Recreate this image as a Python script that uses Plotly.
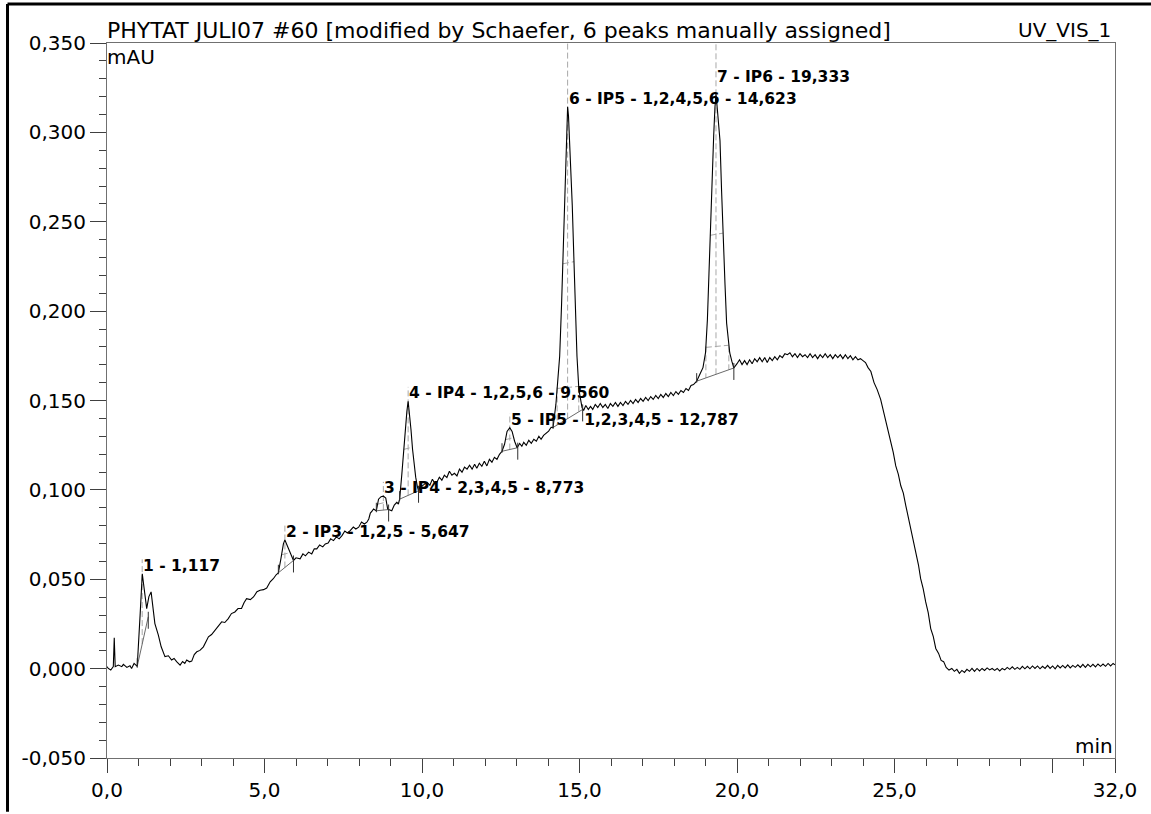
import numpy as np
import plotly.graph_objects as go

# ---------------- data ----------------
time_min = [
    0.00, 0.04, 0.12, 0.20, 0.23, 0.26, 0.36, 0.47, 0.52, 0.63, 0.73, 0.78, 0.86, 0.92, 0.96,
    1.05, 1.12, 1.26, 1.33, 1.40, 1.47, 1.52, 1.63, 1.72, 1.84, 1.95, 2.05, 2.13, 2.21, 2.32,
    2.40, 2.47, 2.53, 2.62, 2.69, 2.77, 2.85, 2.95, 3.06, 3.14, 3.22, 3.32, 3.43, 3.52, 3.64,
    3.74, 3.85, 3.95, 4.06, 4.16, 4.27, 4.35, 4.43, 4.55, 4.65, 4.76, 4.86, 4.97, 5.07, 5.18,
    5.28, 5.37, 5.44, 5.52, 5.60, 5.647, 5.70, 5.79, 5.86, 5.92, 6.00, 6.13, 6.22, 6.30, 6.40,
    6.50, 6.58, 6.66, 6.75, 6.85, 6.93, 7.02, 7.10, 7.19, 7.28, 7.37, 7.46, 7.55, 7.63, 7.72,
    7.82, 7.90, 7.99, 8.08, 8.17, 8.25, 8.31, 8.36, 8.42, 8.46, 8.55, 8.62, 8.70, 8.773, 8.85,
    8.91, 8.94, 9.04, 9.12, 9.20, 9.25, 9.29, 9.36, 9.42, 9.47, 9.52, 9.56, 9.60, 9.65, 9.70,
    9.75, 9.80, 9.85, 9.89, 9.95, 10.00, 10.08, 10.16, 10.25, 10.33, 10.40, 10.47, 10.55, 10.63, 10.71,
    10.79, 10.87, 10.95, 11.03, 11.11, 11.19, 11.27, 11.35, 11.43, 11.51, 11.59, 11.67, 11.74, 11.82, 11.90,
    11.98, 12.06, 12.14, 12.22, 12.30, 12.38, 12.46, 12.54, 12.62, 12.70, 12.787, 12.86, 12.94, 13.02, 13.10,
    13.17, 13.23, 13.31, 13.39, 13.47, 13.55, 13.63, 13.71, 13.78, 13.86, 13.94, 14.02, 14.10, 14.16, 14.25,
    14.32, 14.37, 14.43, 14.48, 14.53, 14.57, 14.60, 14.623, 14.65, 14.68, 14.71, 14.77, 14.82, 14.87, 14.92,
    14.98, 15.03, 15.08, 15.13, 15.20, 15.28, 15.35, 15.42, 15.50, 15.58, 15.66, 15.74, 15.82, 15.90, 15.98,
    16.06, 16.14, 16.22, 16.30, 16.38, 16.46, 16.54, 16.62, 16.70, 16.78, 16.86, 16.94, 17.02, 17.10, 17.18,
    17.26, 17.34, 17.42, 17.50, 17.58, 17.66, 17.74, 17.82, 17.90, 17.98, 18.06, 18.14, 18.22, 18.30, 18.38,
    18.46, 18.54, 18.62, 18.72, 18.84, 18.92, 19.00, 19.06, 19.11, 19.16, 19.21, 19.26, 19.30, 19.333, 19.38,
    19.46, 19.51, 19.56, 19.62, 19.67, 19.72, 19.77, 19.84, 19.90, 20.00, 20.08, 20.16, 20.24, 20.32, 20.40,
    20.48, 20.56, 20.64, 20.72, 20.80, 20.88, 20.96, 21.04, 21.12, 21.20, 21.28, 21.36, 21.44, 21.52, 21.60,
    21.68, 21.76, 21.84, 21.92, 22.00, 22.08, 22.16, 22.24, 22.32, 22.40, 22.48, 22.56, 22.64, 22.72, 22.80,
    22.88, 22.96, 23.04, 23.12, 23.20, 23.28, 23.36, 23.44, 23.52, 23.60, 23.68, 23.76, 23.84, 23.92, 24.00,
    24.08, 24.16, 24.25, 24.35, 24.45, 24.56, 24.64, 24.72, 24.80, 24.88, 24.96, 25.04, 25.12, 25.20, 25.28,
    25.36, 25.44, 25.52, 25.60, 25.68, 25.76, 25.83, 25.91, 25.99, 26.07, 26.15, 26.23, 26.31, 26.40, 26.48,
    26.56, 26.64, 26.73, 26.82, 26.90, 26.98, 27.06, 27.14, 27.22, 27.30, 27.38, 27.46, 27.54, 27.62, 27.70,
    27.78, 27.86, 27.94, 28.02, 28.10, 28.18, 28.26, 28.34, 28.42, 28.50, 28.58, 28.66, 28.74, 28.82, 28.90,
    28.98, 29.06, 29.14, 29.22, 29.30, 29.38, 29.46, 29.54, 29.62, 29.70, 29.78, 29.86, 29.94, 30.02, 30.10,
    30.18, 30.26, 30.34, 30.42, 30.50, 30.58, 30.66, 30.74, 30.82, 30.90, 30.98, 31.06, 31.14, 31.22, 31.30,
    31.38, 31.46, 31.54, 31.62, 31.70, 31.78, 31.86, 31.94, 32.00,
]

signal_mau = [
    0.0011, 0.0001, -0.0008, 0.0011, 0.0172, 0.0011, 0.0020, 0.0011, 0.0024, 0.0007, 0.0016, 0.0001, 0.0029, 0.0016, 0.0013,
    0.0298, 0.0531, 0.0336, 0.0403, 0.0429, 0.0317, 0.0252, 0.0187, 0.0122, 0.0067, 0.0072, 0.0048, 0.0057, 0.0039, 0.0020,
    0.0040, 0.0029, 0.0048, 0.0038, 0.0042, 0.0079, 0.0094, 0.0102, 0.0122, 0.0152, 0.0178, 0.0191, 0.0215, 0.0230, 0.0262,
    0.0258, 0.0280, 0.0308, 0.0317, 0.0336, 0.0336, 0.0369, 0.0391, 0.0386, 0.0401, 0.0430, 0.0438, 0.0442, 0.0451, 0.0486,
    0.0503, 0.0525, 0.0536, 0.0614, 0.0698, 0.0720, 0.0698, 0.0652, 0.0625, 0.0605, 0.0620, 0.0614, 0.0642, 0.0631, 0.0652,
    0.0642, 0.0670, 0.0670, 0.0692, 0.0681, 0.0698, 0.0703, 0.0726, 0.0716, 0.0737, 0.0726, 0.0744, 0.0770, 0.0759, 0.0772,
    0.0792, 0.0781, 0.0791, 0.0820, 0.0809, 0.0819, 0.0837, 0.0870, 0.0882, 0.0893, 0.0883, 0.0948, 0.0962, 0.0965, 0.0954,
    0.0893, 0.0890, 0.0883, 0.0915, 0.0930, 0.0921, 0.0948, 0.1088, 0.1227, 0.1350, 0.1439, 0.1496, 0.1439, 0.1338, 0.1227,
    0.1138, 0.1071, 0.1021, 0.0995, 0.1026, 0.1021, 0.1032, 0.1042, 0.1026, 0.1060, 0.1038, 0.1042, 0.1071, 0.1054, 0.1082,
    0.1069, 0.1104, 0.1082, 0.1093, 0.1078, 0.1116, 0.1099, 0.1127, 0.1116, 0.1138, 0.1116, 0.1143, 0.1121, 0.1149, 0.1132,
    0.1160, 0.1134, 0.1171, 0.1155, 0.1182, 0.1171, 0.1199, 0.1216, 0.1255, 0.1327, 0.1348, 0.1327, 0.1272, 0.1236, 0.1260,
    0.1244, 0.1266, 0.1249, 0.1277, 0.1260, 0.1283, 0.1272, 0.1300, 0.1283, 0.1305, 0.1316, 0.1329, 0.1350, 0.1349, 0.1478,
    0.1645, 0.1747, 0.2035, 0.2304, 0.2592, 0.2861, 0.3038, 0.3143, 0.3093, 0.2982, 0.2861, 0.2592, 0.2304, 0.2035, 0.1747,
    0.1561, 0.1495, 0.1461, 0.1444, 0.1472, 0.1450, 0.1467, 0.1450, 0.1478, 0.1461, 0.1483, 0.1461, 0.1478, 0.1455, 0.1483,
    0.1467, 0.1489, 0.1467, 0.1489, 0.1472, 0.1495, 0.1478, 0.1500, 0.1483, 0.1506, 0.1489, 0.1511, 0.1495, 0.1517, 0.1500,
    0.1522, 0.1506, 0.1528, 0.1511, 0.1534, 0.1517, 0.1539, 0.1522, 0.1545, 0.1528, 0.1550, 0.1534, 0.1556, 0.1545, 0.1567,
    0.1556, 0.1584, 0.1589, 0.1608, 0.1654, 0.1684, 0.1766, 0.1951, 0.2211, 0.2508, 0.2769, 0.2982, 0.3140, 0.3214, 0.3121,
    0.2954, 0.2675, 0.2397, 0.2146, 0.1933, 0.1829, 0.1766, 0.1717, 0.1682, 0.1706, 0.1728, 0.1701, 0.1723, 0.1701, 0.1728,
    0.1706, 0.1734, 0.1717, 0.1740, 0.1717, 0.1740, 0.1712, 0.1740, 0.1723, 0.1745, 0.1728, 0.1751, 0.1740, 0.1762, 0.1756,
    0.1767, 0.1745, 0.1762, 0.1740, 0.1762, 0.1745, 0.1756, 0.1740, 0.1762, 0.1740, 0.1756, 0.1734, 0.1756, 0.1740, 0.1762,
    0.1740, 0.1756, 0.1734, 0.1756, 0.1740, 0.1756, 0.1734, 0.1756, 0.1734, 0.1751, 0.1728, 0.1745, 0.1728, 0.1734, 0.1723,
    0.1712, 0.1684, 0.1662, 0.1600, 0.1561, 0.1506, 0.1450, 0.1377, 0.1327, 0.1266, 0.1210, 0.1134, 0.1088, 0.1023, 0.0982,
    0.0911, 0.0848, 0.0781, 0.0726, 0.0652, 0.0581, 0.0503, 0.0447, 0.0373, 0.0313, 0.0224, 0.0180, 0.0113, 0.0085, 0.0046,
    0.0039, 0.0007, -0.0008, 0.0001, -0.0015, -0.0004, -0.0026, -0.0010, -0.0021, -0.0004, -0.0015, 0.0001, -0.0015, 0.0001, -0.0013,
    0.0001, -0.0010, 0.0004, -0.0007, 0.0001, -0.0010, 0.0001, -0.0013, 0.0001, -0.0007, 0.0007, -0.0004, 0.0010, -0.0004, 0.0007,
    -0.0004, 0.0013, -0.0001, 0.0013, -0.0001, 0.0015, 0.0001, 0.0015, -0.0001, 0.0013, 0.0001, 0.0018, 0.0001, 0.0015, -0.0001,
    0.0018, 0.0004, 0.0018, 0.0004, 0.0021, 0.0004, 0.0018, 0.0007, 0.0021, 0.0007, 0.0024, 0.0007, 0.0024, 0.0010, 0.0024,
    0.0010, 0.0026, 0.0013, 0.0026, 0.0013, 0.0029, 0.0015, 0.0029, 0.0021,
]

# peak table (retention time, label, integration start/end on the trace)
peak_rt = [1.117, 5.647, 8.773, 9.560, 12.787, 14.623, 19.333]
peak_labels = [
    "1 - 1,117",
    "2 - IP3 - 1,2,5 - 5,647",
    "3 - IP4 - 2,3,4,5 - 8,773",
    "4 - IP4 - 1,2,5,6 - 9,560",
    "5 - IP5 - 1,2,3,4,5 - 12,787",
    "6 - IP5 - 1,2,4,5,6 - 14,623",
    "7 - IP6 - 19,333",
]
peak_start_t = [0.96, 5.44, 8.55, 9.29, 12.54, 14.16, 18.72]
peak_start_v = [0.0013, 0.0536, 0.0883, 0.0948, 0.1216, 0.1349, 0.1608]
peak_end_t = [1.31, 5.92, 8.94, 9.89, 13.04, 15.10, 19.90]
peak_end_v = [0.0290, 0.0605, 0.0890, 0.0995, 0.1236, 0.1450, 0.1682]
peak_apex_v = [0.0531, 0.0720, 0.0965, 0.1496, 0.1348, 0.3143, 0.3214]

x_tick_vals = [0, 5, 10, 15, 20, 25, 30, 32]
x_tick_text = ["0,0", "5,0", "10,0", "15,0", "20,0", "25,0", "", "32,0"]
y_tick_vals = [-0.05, 0.0, 0.05, 0.10, 0.15, 0.20, 0.25, 0.30, 0.35]
y_tick_text = ["-0,050", "0,000", "0,050", "0,100", "0,150", "0,200", "0,250", "0,300", "0,350"]

title_text = "PHYTAT JULI07 #60 [modified by Schaefer, 6 peaks manually assigned]"
channel_text = "UV_VIS_1"

# ---------------- figure ----------------
Y_MAX = 0.35
t_arr = np.array(time_min)
v_arr = np.array(signal_mau)

fig = go.Figure()

# peak marker geometry derived from the peak table
base_x, base_y = [], []
delim_x, delim_y = [], []
apex_x, apex_y = [], []
width_x, width_y = [], []


def base_at(i, t):
    return peak_start_v[i] + (peak_end_v[i] - peak_start_v[i]) * (t - peak_start_t[i]) / (peak_end_t[i] - peak_start_t[i])


def crossing(ts, vs, level):
    for k in range(len(ts) - 1):
        a, b = vs[k], vs[k + 1]
        if (a - level) * (b - level) <= 0 and a != b:
            return ts[k] + (level - a) * (ts[k + 1] - ts[k]) / (b - a)
    return None


for i in range(len(peak_rt)):
    base_x += [peak_start_t[i], peak_end_t[i], None]
    base_y += [peak_start_v[i], peak_end_v[i], None]
    delim_x += [peak_start_t[i], peak_start_t[i], None, peak_end_t[i], peak_end_t[i], None]
    delim_y += [peak_start_v[i] + 0.0045, peak_start_v[i] - 0.0008, None,
                peak_end_v[i] + 0.0028, peak_end_v[i] - 0.0067, None]
    top = Y_MAX if peak_apex_v[i] > 0.25 else peak_apex_v[i] + 0.008
    apex_x += [peak_rt[i], peak_rt[i], None]
    apex_y += [base_at(i, peak_rt[i]), top, None]
    # half-height (and 10 %) width markers
    mask_l = (t_arr >= peak_start_t[i]) & (t_arr <= peak_rt[i])
    mask_r = (t_arr >= peak_rt[i]) & (t_arr <= peak_end_t[i])
    tl, vl = t_arr[mask_l], v_arr[mask_l]
    tr, vr = t_arr[mask_r][::-1], v_arr[mask_r][::-1]
    fracs = [0.5, 0.1] if peak_apex_v[i] > 0.25 else [0.5]
    for f in fracs:
        lvl = base_at(i, peak_rt[i]) + f * (peak_apex_v[i] - base_at(i, peak_rt[i]))
        a = crossing(list(tl), list(vl), lvl)
        b = crossing(list(tr), list(vr), lvl)
        if a is not None and b is not None:
            width_x += [a, b, None]
            width_y += [lvl - 0.0006, lvl + 0.0006, None]
            if f < 0.3:
                width_x += [a, a, None, b, b, None]
                width_y += [lvl, base_at(i, a), None, lvl, base_at(i, b), None]

fig.add_trace(go.Scatter(x=apex_x, y=apex_y, mode="lines",
                         line=dict(color="#a8a8a8", width=1, dash="6px,3px"), hoverinfo="skip"))
fig.add_trace(go.Scatter(x=width_x, y=width_y, mode="lines",
                         line=dict(color="#a8a8a8", width=1, dash="6px,3px"), hoverinfo="skip"))
fig.add_trace(go.Scatter(x=base_x, y=base_y, mode="lines",
                         line=dict(color="#6a6a6a", width=1), hoverinfo="skip"))
fig.add_trace(go.Scatter(x=time_min, y=signal_mau, mode="lines",
                         line=dict(color="black", width=1.1), hoverinfo="skip"))
fig.add_trace(go.Scatter(x=delim_x, y=delim_y, mode="lines",
                         line=dict(color="#303030", width=1), hoverinfo="skip"))

LABEL_FONT = dict(family="DejaVu Sans", size=15.5, color="black")
label_yshift = [0, 0, 0, 0, 0, 0, 9]
for i in range(len(peak_rt)):
    fig.add_annotation(x=peak_rt[i], y=peak_apex_v[i], xref="x", yref="y",
                       text="<b>" + peak_labels[i] + "</b>", showarrow=False,
                       xanchor="left", yanchor="bottom", xshift=-1, yshift=label_yshift[i] - 3,
                       font=LABEL_FONT)

TXT_FONT = dict(family="DejaVu Sans", size=20, color="black")
TITLE_FONT = dict(family="DejaVu Sans", size=22, color="black")
fig.add_annotation(x=0, y=1, xref="paper", yref="paper", text=title_text, showarrow=False,
                   xanchor="left", yanchor="bottom", xshift=-2, yshift=-2, font=TITLE_FONT)
fig.add_annotation(x=1, y=1, xref="paper", yref="paper", text=channel_text, showarrow=False,
                   xanchor="right", yanchor="bottom", xshift=-2, yshift=-1, font=TXT_FONT)
fig.add_annotation(x=0, y=1, xref="paper", yref="paper", text="mAU", showarrow=False,
                   xanchor="left", yanchor="top", xshift=-2, yshift=0, font=TXT_FONT)
fig.add_annotation(x=1, y=0, xref="paper", yref="paper", text="min", showarrow=False,
                   xanchor="right", yanchor="bottom", xshift=0, yshift=-2, font=TXT_FONT)

# outer thick window frame (top and left edges of the original window)
FRAME_TOP = (760 - 4) / 717
FRAME_LEFT = -0.0987
fig.add_shape(type="line", xref="paper", yref="paper", x0=FRAME_LEFT, x1=1.0357,
              y0=FRAME_TOP, y1=FRAME_TOP, line=dict(color="black", width=3))
fig.add_shape(type="line", xref="paper", yref="paper", x0=FRAME_LEFT, x1=FRAME_LEFT,
              y0=FRAME_TOP, y1=-0.0753, line=dict(color="black", width=3))

fig.update_layout(
    width=1151, height=814,
    margin=dict(l=107, r=36, t=43, b=54),
    plot_bgcolor="white", paper_bgcolor="white",
    showlegend=False,
    xaxis=dict(range=[0, 32], tickmode="array", tickvals=x_tick_vals, ticktext=x_tick_text,
               showgrid=False, zeroline=False, showline=True, linecolor="#707070", linewidth=1,
               mirror=True, ticks="outside", ticklen=14, tickcolor="#404040", tickwidth=1,
               tickfont=TXT_FONT,
               minor=dict(tickmode="linear", tick0=0, dtick=1, ticks="outside", ticklen=7,
                          tickcolor="#404040", tickwidth=1, showgrid=False)),
    yaxis=dict(range=[-0.05, Y_MAX], tickmode="array", tickvals=y_tick_vals, ticktext=y_tick_text,
               showgrid=False, zeroline=False, showline=True, linecolor="#707070", linewidth=1,
               mirror=True, ticks="outside", ticklen=16, tickcolor="#404040", tickwidth=1,
               tickfont=TXT_FONT,
               minor=dict(tickmode="linear", tick0=0, dtick=0.01, ticks="outside", ticklen=7,
                          tickcolor="#404040", tickwidth=1, showgrid=False)),
)

fig.write_html("out.html", config={"displayModeBar": False},
               post_script="document.body.style.margin='0px';")
